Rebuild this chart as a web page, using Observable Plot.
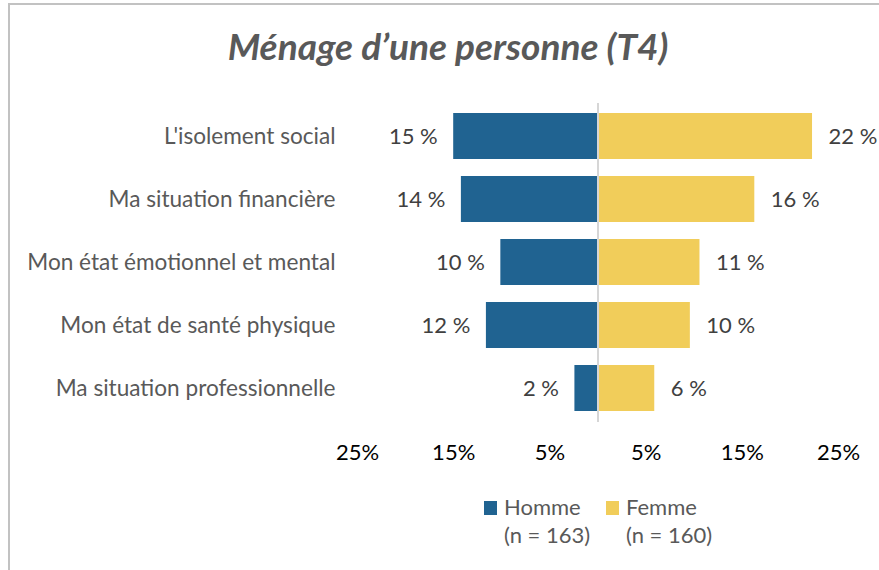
<!DOCTYPE html>
<html>
<head>
<meta charset="utf-8">
<script src="https://cdn.jsdelivr.net/npm/d3@7"></script>
<script src="https://cdn.jsdelivr.net/npm/@observablehq/plot@0.6"></script>
<style>
  html, body { margin: 0; padding: 0; background: #fff; }
  body { font-family: Lato, "Open Sans", sans-serif; }
  #wrap { position: relative; width: 879px; height: 570px; overflow: hidden; }
  #frame { position: absolute; left: 8px; top: 3px; width: 1000px; height: 1000px;
           border-left: 2px solid #c2c2c2; border-top: 2px solid #c2c2c2; box-sizing: border-box; }
  #title { position: relative; height: 90px; width: 896px; text-align: center;
           font-style: italic; font-weight: bold; font-size: 37px; color: #595959; line-height: 92px; }
  #chart { position: relative; height: 410px; }
  #legend { position: absolute; top: 493px; left: 0; width: 879px; height: 70px;
            font-size: 22px; color: #595959; line-height: 28px; }
  .item { position: absolute; top: 0; display: flex; align-items: flex-start; }
  .sw { width: 13px; height: 14px; margin-top: 8px; margin-right: 7px; }
</style>
</head>
<body>
<div id="wrap">
  <div id="frame"></div>
  <div id="title">Ménage d’une personne (T4)</div>
  <div id="chart"></div>
  <div id="legend"></div>
</div>
<script>
const categories = [
  "L'isolement social",
  "Ma situation financière",
  "Mon état émotionnel et mental",
  "Mon état de santé physique",
  "Ma situation professionnelle"
];
const hommeValues = [15.0, 14.2, 10.1, 11.6, 2.4];
const femmeValues = [22.3, 16.3, 10.6, 9.6, 5.9];
const seriesNames = ["Homme", "Femme"];
const seriesN = ["(n = 163)", "(n = 160)"];
const seriesColors = ["#206391", "#f1cd5a"];
const tickValues = [-25, -15, -5, 5, 15, 25];

const rows = [];
categories.forEach((c, i) => {
  rows.push({category: c, side: "Homme", value: -hommeValues[i], label: Math.round(hommeValues[i]) + " %"});
  rows.push({category: c, side: "Femme", value: femmeValues[i], label: Math.round(femmeValues[i]) + " %"});
});

const fontFam = "Lato, 'Open Sans', sans-serif";
const chart = Plot.plot({
  width: 879,
  height: 410,
  marginLeft: 357,
  marginRight: 41,
  marginTop: 4,
  marginBottom: 70,
  style: {fontFamily: fontFam, fontSize: "22px", background: "transparent", overflow: "visible"},
  x: {domain: [-25, 25]},
  y: {domain: categories, padding: 0.265},
  color: {domain: seriesNames, range: seriesColors},
  marks: [
    Plot.barX(rows, {x: "value", y: "category", fill: "side"}),
    Plot.ruleX([0], {stroke: "#d6d6d6", strokeWidth: 2, insetTop: 9, insetBottom: 8}),
    Plot.text(rows.filter(d => d.side === "Homme"), {x: "value", y: "category", text: "label", textAnchor: "end", dx: -16, fill: "#404040", fontSize: 22}),
    Plot.text(rows.filter(d => d.side === "Femme"), {x: "value", y: "category", text: "label", textAnchor: "start", dx: 16, fill: "#404040", fontSize: 22}),
    Plot.axisY({tickSize: 0, tickPadding: 22, label: null, fill: "#595959", fontSize: 22.6}),
    Plot.axisX({ticks: tickValues, tickSize: 0, tickPadding: 14, label: null, tickFormat: d => Math.abs(d) + "%", fill: "#000", fontSize: 22})
  ]
});
document.getElementById("chart").appendChild(chart);

const legend = document.getElementById("legend");
const lefts = [484, 606];
seriesNames.forEach((s, i) => {
  const it = document.createElement("div");
  it.className = "item";
  it.style.left = lefts[i] + "px";
  const sw = document.createElement("div");
  sw.className = "sw";
  sw.style.background = seriesColors[i];
  const tx = document.createElement("div");
  tx.innerHTML = s + "<br>" + seriesN[i];
  it.appendChild(sw);
  it.appendChild(tx);
  legend.appendChild(it);
});
</script>
</body>
</html>
